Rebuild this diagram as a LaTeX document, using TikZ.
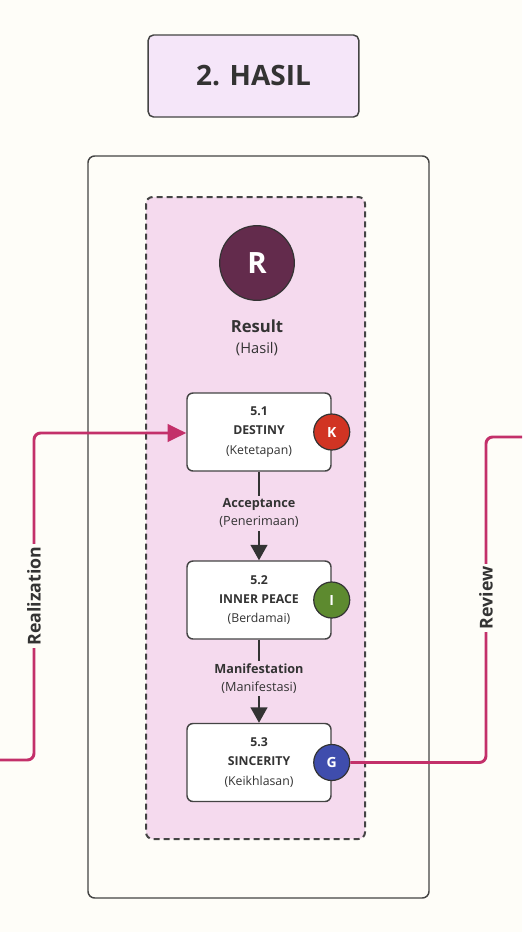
\documentclass[tikz,border=0pt]{standalone}
\usepackage{fontspec}
\setmainfont{Open Sans}
\usepackage{tikz}
\usetikzlibrary{arrows.meta, positioning, calc}

\definecolor{paper}{HTML}{FEFDF8}
\definecolor{titlefill}{HTML}{F5E6F9}
\definecolor{panelpink}{HTML}{F5DAEE}
\definecolor{plum}{HTML}{632B4C}
\definecolor{badgered}{HTML}{D13423}
\definecolor{badgegreen}{HTML}{5D8A2F}
\definecolor{badgeblue}{HTML}{3F4DAD}
\definecolor{crimson}{HTML}{C3306A}
\definecolor{ink}{HTML}{333333}
\definecolor{edge}{HTML}{444444}

\tikzset{
  stagebox/.style={draw=edge, line width=1.1pt, fill=white, rounded corners=4.5pt,
    minimum width=108pt, minimum height=58.5pt, align=center, text=ink,
    font=\fontsize{9.2}{14.5}\selectfont},
  badge/.style={circle, draw=ink, line width=0.9pt, minimum size=27pt, inner sep=0pt,
    text=white, font=\fontsize{10.5}{12}\selectfont\bfseries},
  flow/.style={draw=ink, line width=1.5pt, -{Triangle[length=11.5pt, width=12.5pt]}},
  flowlabel/.style={fill=panelpink, align=center, text=ink, inner sep=2pt,
    font=\fontsize{9.5}{13.5}\selectfont},
  link/.style={draw=crimson, line width=2.2pt, rounded corners=5pt},
  linklabel/.style={fill=paper, rotate=90, text=ink, inner sep=2pt,
    font=\fontsize{13.3}{15}\selectfont\bfseries}
}

\begin{document}
\begin{tikzpicture}[x=0.75pt, y=-0.75pt]
    % Page
    \fill[paper] (0,0) rectangle (522,932);
    \useasboundingbox (0,0) rectangle (522,932);

    % Title
    \node[draw=edge, line width=1.1pt, fill=titlefill, rounded corners=4pt,
      minimum width=158pt, minimum height=61.5pt, text=ink,
      font=\fontsize{21}{24}\selectfont\bfseries] (title) at (253.5,76) {2. HASIL};

    % Frames
    \draw[edge, line width=1.1pt, fill=paper, rounded corners=5pt] (88,156) rectangle (429,898);
    \draw[edge, line width=1.5pt, fill=panelpink, dash pattern=on 4.5pt off 3pt,
      rounded corners=5pt] (146,197) rectangle (365,839);

    % Result heading
    \node[circle, draw=ink, line width=0.9pt, fill=plum, minimum size=56pt, inner sep=0pt,
      text=white, font=\fontsize{22}{24}\selectfont\bfseries] (result) at (257,263) {R};
    \node[text=ink, align=center, font=\fontsize{12.5}{17}\selectfont] (resultlabel) at (257,338)
      {\textbf{Result}\\[-1pt]{\fontsize{11}{13}\selectfont(Hasil)}};

    % Stages
    \node[stagebox] (destiny) at (259,432) {\textbf{5.1}\\\textbf{DESTINY}\\(Ketetapan)};
    \node[stagebox] (peace) at (259,600) {\textbf{5.2}\\\textbf{INNER PEACE}\\(Berdamai)};
    \node[stagebox] (sincerity) at (259,762.5) {\textbf{5.3}\\\textbf{SINCERITY}\\(Keikhlasan)};

    \node[badge, fill=badgered] (k) at (destiny.east) {K};
    \node[badge, fill=badgegreen] (i) at (peace.east) {I};
    \node[badge, fill=badgeblue] (g) at (sincerity.east) {G};

    % Flow between stages
    \draw[flow] (destiny) -- node[flowlabel, yshift=2pt] {\textbf{Acceptance}\\(Penerimaan)} (peace);
    \draw[flow] (peace) -- node[flowlabel, yshift=2pt] {\textbf{Manifestation}\\(Manifestasi)} (sincerity);

    % Links to the neighbouring phases
    \coordinate (realfrom) at (0,760);
    \coordinate (reviewto) at (522,437);
    \draw[link, -{Triangle[length=14pt, width=13pt]}]
      (realfrom) -- (34,760) -- (34,433) -- (destiny.west |- 0,433);
    \node[linklabel] (realization) at (34,596) {Realization};

    \draw[link] (g.east) -- (486,762.5) -- (486,437) -- (reviewto);
    \node[linklabel] (review) at (486,598) {Review};
\end{tikzpicture}
\end{document}
